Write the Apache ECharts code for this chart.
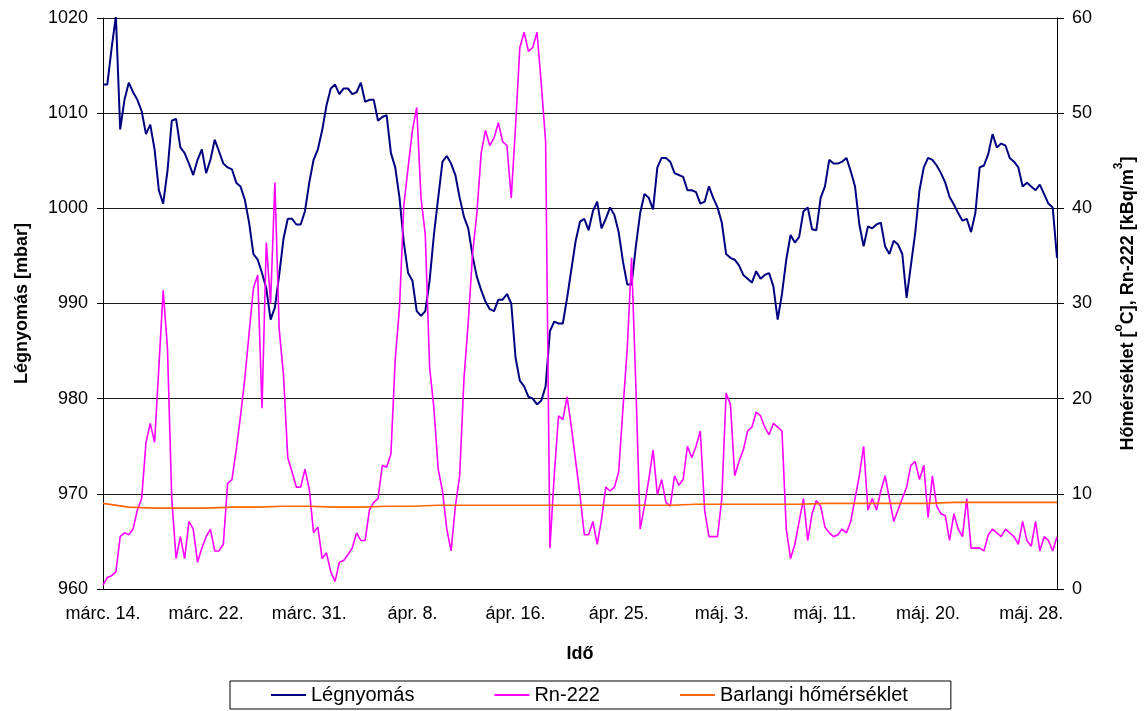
<!DOCTYPE html>
<html><head><meta charset="utf-8">
<script src="https://cdn.jsdelivr.net/npm/echarts@6/dist/echarts.min.js"></script>
<style>html,body{margin:0;padding:0;background:#fff}#c{width:1145px;height:711px}</style>
</head><body><div id="c"></div>
<script>
const dateLabels = ['márc. 14.','márc. 22.','márc. 31.','ápr. 8.','ápr. 16.','ápr. 25.','máj. 3.','máj. 11.','máj. 20.','máj. 28.'];
const labelStep = 24;
const pressure = [
1013.0,1013.0,1016.8,1020.2,1008.3,1011.4,1013.2,1012.2,1011.4,1010.2,
1007.8,1008.8,1006.2,1001.9,1000.5,1003.9,1009.2,1009.4,1006.4,1005.8,
1004.7,1003.5,1005.1,1006.2,1003.7,1005.1,1007.2,1006.0,1004.7,1004.3,
1004.1,1002.7,1002.3,1000.9,998.5,995.2,994.6,993.2,991.6,988.3,
989.6,993.0,996.8,998.9,998.9,998.3,998.3,999.7,1002.7,1005.1,
1006.2,1008.2,1010.8,1012.6,1013.0,1012.0,1012.6,1012.6,1012.0,1012.2,
1013.2,1011.2,1011.4,1011.4,1009.2,1009.6,1009.8,1005.8,1004.3,1001.1,
996.4,993.2,992.4,989.2,988.7,989.2,992.4,997.2,1001.1,1004.9,
1005.5,1004.7,1003.5,1001.1,999.1,997.9,995.0,992.8,991.4,990.2,
989.4,989.2,990.4,990.4,991.0,990.0,984.3,981.9,981.3,980.2,
980.0,979.4,979.8,981.3,987.1,988.1,987.9,987.9,990.6,993.6,
996.6,998.6,998.9,997.7,999.7,1000.7,997.9,998.9,1000.1,999.3,
997.5,994.4,992.0,992.0,996.0,999.5,1001.5,1001.1,999.9,1004.3,
1005.3,1005.3,1004.9,1003.7,1003.5,1003.3,1001.9,1001.9,1001.7,1000.5,
1000.7,1002.3,1001.1,1000.1,998.5,995.2,994.8,994.6,994.0,993.0,
992.6,992.2,993.4,992.6,993.0,993.2,991.8,988.3,991.0,994.6,
997.2,996.4,997.0,999.7,1000.1,997.8,997.7,1001.1,1002.3,1005.1,
1004.7,1004.7,1004.9,1005.3,1003.9,1002.3,998.3,996.0,998.1,997.9,
998.3,998.5,996.0,995.2,996.6,996.2,995.2,990.6,994.0,997.4,
1001.9,1004.3,1005.3,1005.1,1004.5,1003.7,1002.7,1001.2,1000.4,999.5,
998.7,998.9,997.5,999.5,1004.3,1004.5,1005.7,1007.8,1006.4,1006.8,
1006.6,1005.3,1004.9,1004.3,1002.3,1002.7,1002.3,1001.9,1002.5,1001.5,
1000.5,1000.1,994.8
];
const radon = [
0.4,1.2,1.4,1.8,5.5,5.9,5.7,6.3,8.3,9.5,
15.4,17.4,15.4,23.3,31.4,25.3,9.5,3.2,5.5,3.2,
7.1,6.3,2.8,4.3,5.5,6.3,4.0,4.0,4.7,11.1,
11.5,14.6,18.2,22.1,26.9,31.6,33.0,19.0,36.4,30.0,
42.7,27.3,22.5,13.8,12.3,10.7,10.7,12.6,10.5,5.9,
6.5,3.2,3.8,1.8,0.8,2.8,3.0,3.6,4.3,5.9,
5.1,5.1,8.3,9.1,9.5,13.0,12.8,14.2,24.1,29.6,
40.3,44.3,48.2,50.6,41.1,37.2,23.3,19.0,12.6,10.3,
6.3,4.0,8.7,11.9,22.1,28.1,35.2,39.5,45.8,48.2,
46.6,47.4,49.0,47.0,46.6,41.1,48.6,56.9,58.5,56.5,
56.9,58.5,53.0,47.0,4.3,11.9,18.2,17.8,20.2,17.0,
13.4,9.9,5.7,5.7,7.1,4.7,7.3,10.7,10.3,10.7,
12.3,19.0,25.3,34.8,21.3,6.3,8.7,11.5,14.6,9.9,
11.5,9.1,8.7,11.9,10.9,11.5,15.0,13.8,15.0,16.6,
8.3,5.5,5.5,5.5,9.5,20.6,19.4,11.9,13.4,14.6,
16.6,17.0,18.6,18.2,17.0,16.2,17.4,17.0,16.6,6.3,
3.2,4.7,7.1,9.5,5.1,7.9,9.3,8.7,6.5,5.9,
5.5,5.7,6.3,5.9,7.1,9.5,11.9,15.0,8.3,9.5,
8.3,10.3,11.9,9.5,7.1,8.3,9.5,10.7,13.0,13.4,
11.5,13.0,7.5,11.9,8.7,7.9,7.7,5.1,7.9,6.3,
5.5,9.5,4.3,4.3,4.3,4.0,5.7,6.3,5.9,5.5,
6.3,5.9,5.5,4.7,7.1,5.1,4.5,7.1,4.0,5.5,
5.1,4.0,5.5
];
const tempStep = 6;
const temperature = [
9.0,8.6,8.5,8.5,8.5,8.6,8.6,8.7,8.7,8.6,
8.6,8.7,8.7,8.8,8.8,8.8,8.8,8.8,8.8,8.8,
8.8,8.8,8.8,8.9,8.9,8.9,8.9,8.9,9.0,9.0,
9.0,9.0,9.0,9.1,9.1,9.1,9.1,9.1
];
const leftTicks = [960, 1020, 10];
const rightTicks = [0, 60, 10];

const F = '"Liberation Sans", Arial, sans-serif';
const txt = {fontSize: 18, fontFamily: F, color: '#000'};
const chart = echarts.init(document.getElementById('c'), null, {renderer: 'canvas'});
chart.setOption({
  animation: false,
  backgroundColor: '#fff',
  grid: {left: 103, right: 82, top: 18, bottom: 122},
  legend: {
    left: 230, top: 681, orient: 'horizontal',
    padding: [4, 43, 4, 41], itemGap: 80, itemWidth: 35, itemHeight: 2, icon: 'rect',
    borderColor: '#000', borderWidth: 1,
    textStyle: {fontSize: 20, fontFamily: F, color: '#000'},
    data: ['Légnyomás', 'Rn-222', 'Barlangi hőmérséklet']
  },
  xAxis: {
    type: 'value', min: 0, max: pressure.length - 1, interval: labelStep,
    axisLine: {lineStyle: {color: '#000', width: 1}},
    axisTick: {show: false},
    splitLine: {show: false},
    axisLabel: Object.assign({margin: 16, showMaxLabel: false,
      formatter: v => (v % labelStep === 0 && dateLabels[v / labelStep]) ? dateLabels[v / labelStep] : ''}, txt),
    name: 'Idő', nameLocation: 'middle', nameGap: 56,
    nameTextStyle: Object.assign({fontWeight: 'bold'}, txt)
  },
  yAxis: [{
    type: 'value', min: leftTicks[0], max: leftTicks[1], interval: leftTicks[2], position: 'left',
    axisLine: {show: true, lineStyle: {color: '#000'}},
    axisTick: {show: true, length: 6, lineStyle: {color: '#000'}},
    splitLine: {show: true, lineStyle: {color: '#1a1a1a', width: 1}},
    axisLabel: Object.assign({margin: 15, formatter: v => String(v)}, txt),
    name: 'Légnyomás [mbar]', nameLocation: 'middle', nameGap: 72, nameRotate: 90,
    nameTextStyle: Object.assign({fontWeight: 'bold'}, txt)
  }, {
    type: 'value', min: rightTicks[0], max: rightTicks[1], interval: rightTicks[2], position: 'right',
    axisLine: {show: true, lineStyle: {color: '#000'}},
    axisTick: {show: true, length: 7, lineStyle: {color: '#000'}},
    splitLine: {show: false},
    axisLabel: Object.assign({margin: 15, formatter: v => String(v)}, txt),
    name: '{b|Hőmérséklet [}{s|o}{b|C], Rn-222 [kBq/m}{s|3}{b|]}',
    nameLocation: 'middle', nameGap: 56, nameRotate: 90,
    nameTextStyle: {
      rich: {
        b: {fontSize: 18, fontWeight: 'bold', fontFamily: F, color: '#000', lineHeight: 24, verticalAlign: 'bottom'},
        s: {fontSize: 12, fontWeight: 'bold', fontFamily: F, color: '#000', lineHeight: 24, verticalAlign: 'top'}
      }
    }
  }],
  series: [{
    name: 'Légnyomás', type: 'line', yAxisIndex: 0, showSymbol: false, symbol: 'none',
    lineStyle: {color: '#000080', width: 2}, itemStyle: {color: '#000080'},
    data: pressure.map((v, i) => [i, v])
  }, {
    name: 'Rn-222', type: 'line', yAxisIndex: 1, showSymbol: false, symbol: 'none',
    lineStyle: {color: '#FF00FF', width: 1.6}, itemStyle: {color: '#FF00FF'},
    data: radon.map((v, i) => [i, v])
  }, {
    name: 'Barlangi hőmérséklet', type: 'line', yAxisIndex: 1, showSymbol: false, symbol: 'none',
    lineStyle: {color: '#FF6600', width: 1.6}, itemStyle: {color: '#FF6600'},
    data: temperature.map((v, k) => [k * tempStep, v])
  }]
});
</script></body></html>
